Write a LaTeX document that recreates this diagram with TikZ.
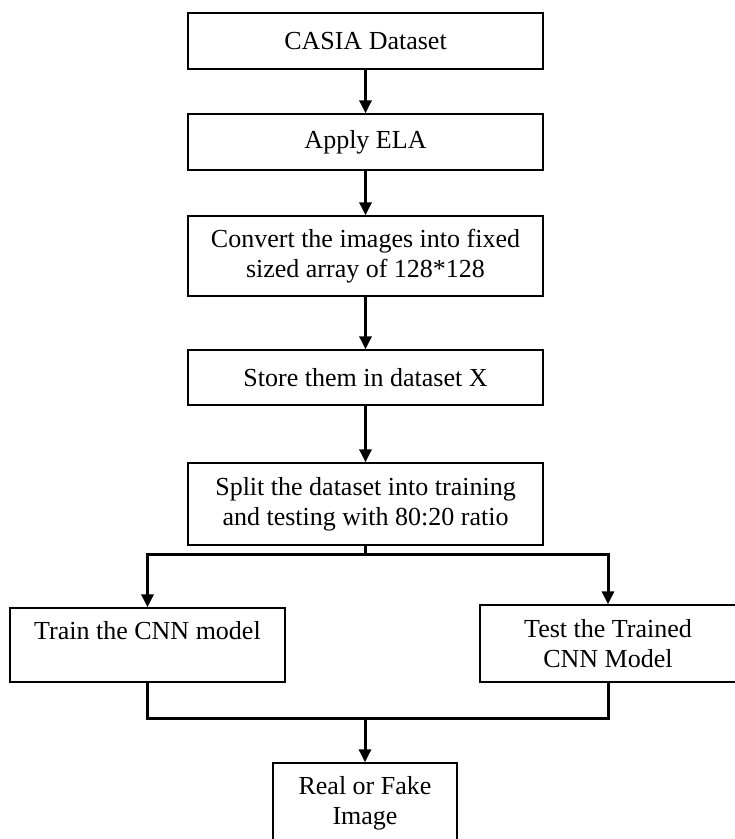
\documentclass[tikz,border=0pt]{standalone}
\usepackage{fontspec}
\setmainfont{Liberation Serif}
\usetikzlibrary{arrows.meta}
\begin{document}
\begin{tikzpicture}[
		x=1pt,y=-1pt,
		>={Triangle[length=13pt,width=12pt]},
		line cap=butt,
		line join=miter,
		stepbox/.style={draw,line width=1.3pt,rectangle,align=center,inner sep=0pt,
			font=\fontsize{26}{30}\selectfont},
		flow/.style={line width=3pt}
		]
		\useasboundingbox (0,0) rectangle (735,839);
		\clip (0,0) rectangle (735,839);
		% main column
		\node[stepbox,minimum width=355pt,minimum height=56pt] (casia) at (365.5,41) {CASIA Dataset};
		\node[stepbox,minimum width=355pt,minimum height=56pt] (ela) at (365.5,142) {Apply ELA};
		\node[stepbox,minimum width=355pt,minimum height=80pt] (convert) at (365.5,256) {Convert the images into fixed\\sized array of 128*128};
		\node[stepbox,minimum width=355pt,minimum height=55pt] (store) at (365.5,377.5) {Store them in dataset X};
		\node[stepbox,minimum width=355pt,minimum height=82pt] (split) at (365.5,504) {Split the dataset into training\\and testing with 80:20 ratio};
		% branches
		\node[stepbox,minimum width=275pt,minimum height=74pt] (train) at (147.5,645) {Train the CNN model\\\mbox{}};
		\node[stepbox,minimum width=256pt,minimum height=77pt] (test) at (608,643.5) {Test the Trained\\CNN Model};
		\node[stepbox,minimum width=184pt,minimum height=80pt] (result) at (365,803) {Real or Fake\\Image};
		\coordinate (fork) at (365.5,554);
		\coordinate (join) at (365,718);
		\begin{scope}[flow,->]
		\draw (casia) -- (ela);
		\draw (ela) -- (convert);
		\draw (convert) -- (store);
		\draw (store) -- (split);
		\draw (split.south) -- (fork) -| (train.north);
		\draw (fork) -| (test.north);
		\draw (join) -- (result);
		\end{scope}
		\draw[flow] (train.south) |- (join) -| (test.south);
		\end{tikzpicture}
\end{document}
